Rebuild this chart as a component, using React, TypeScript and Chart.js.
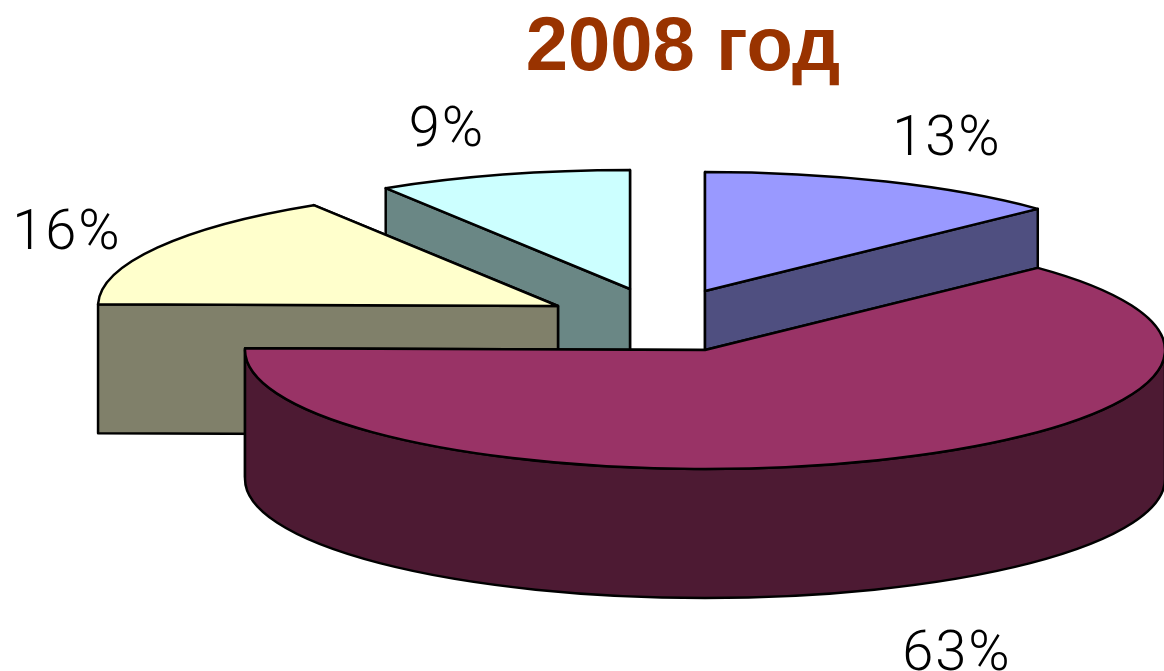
import React, { useEffect, useRef } from "react";
import { Chart, registerables } from "chart.js";

Chart.register(...registerables);

// Data
const categories = ["A", "B", "C", "D"];
const values = [13, 63, 16, 9];
const chartTitle = "2008 год";

// Style and layout
const topColors = ["#9999ff", "#993366", "#ffffcc", "#ccffff"];
const sideColors = ["#4f4f80", "#4d1a33", "#80806a", "#6a8785"];
const PIE = { x: 705, y: 349, rx: 460, ry: 119, depth: 129 };
const explode = [
  { dx: 0, dy: -58 },
  { dx: 0, dy: 1 },
  { dx: -147, dy: -43 },
  { dx: -75, dy: -60 },
];
const labelAt = [
  { x: 947, y: 141 },
  { x: 957, y: 656 },
  { x: 67, y: 235 },
  { x: 447, y: 132 },
];
const paintOrder = [0, 3, 2, 1];

const pie3d = {
  id: "pie3d",
  beforeDatasetsDraw(chart: any) {
    const ctx = chart.ctx as CanvasRenderingContext2D;
    const arcs = chart.getDatasetMeta(0).data as any[];
    const { rx, ry, depth } = PIE;
    ctx.save();
    ctx.lineWidth = 2.5;
    ctx.strokeStyle = "#000";
    ctx.lineJoin = "round";

    for (const i of paintOrder) {
      const a0 = arcs[i].startAngle;
      const a1 = arcs[i].endAngle;
      const cx = PIE.x + explode[i].dx;
      const cy = PIE.y + explode[i].dy;
      ctx.fillStyle = sideColors[i];

      const radial = [a0, a1]
        .map((a) => ({ x: cx + rx * Math.cos(a), y: cy + ry * Math.sin(a) }))
        .sort((p, q) => p.y - q.y);
      for (const p of radial) {
        ctx.beginPath();
        ctx.moveTo(cx, cy);
        ctx.lineTo(p.x, p.y);
        ctx.lineTo(p.x, p.y + depth);
        ctx.lineTo(cx, cy + depth);
        ctx.closePath();
        ctx.fill();
        ctx.stroke();
      }

      const t0 = Math.max(a0, 0);
      const t1 = Math.min(a1, Math.PI);
      if (t1 > t0) {
        ctx.beginPath();
        ctx.ellipse(cx, cy, rx, ry, 0, t0, t1);
        ctx.ellipse(cx, cy + depth, rx, ry, 0, t1, t0, true);
        ctx.closePath();
        ctx.fill();
        ctx.stroke();
      }

      ctx.beginPath();
      ctx.moveTo(cx, cy);
      ctx.ellipse(cx, cy, rx, ry, 0, a0, a1);
      ctx.closePath();
      ctx.fillStyle = topColors[i];
      ctx.fill();
      ctx.stroke();
    }

    ctx.fillStyle = "#000";
    ctx.font = '300 56px Roboto, "Liberation Sans", Arial, sans-serif';
    (ctx as any).letterSpacing = "2px";
    ctx.textAlign = "center";
    ctx.textBaseline = "middle";
    values.forEach((v, i) => {
      ctx.fillText(`${v}%`, labelAt[i].x, labelAt[i].y);
    });
    ctx.restore();
    return false;
  },
};

export default function App() {
  const ref = useRef<HTMLCanvasElement>(null);
  useEffect(() => {
    document.body.style.margin = "0";
    document.body.style.background = "#fff";
    const chart = new Chart(ref.current!, {
      type: "pie",
      data: {
        labels: categories,
        datasets: [{ data: values, backgroundColor: topColors }],
      },
      options: {
        responsive: false,
        animation: false,
        layout: { padding: { left: 202 } },
        plugins: {
          legend: { display: false },
          tooltip: { enabled: false },
          title: {
            display: true,
            text: chartTitle,
            fullSize: false,
            color: "#993300",
            padding: { top: 3, bottom: 0 },
            font: { family: '"Liberation Sans", Arial, sans-serif', size: 76, weight: "bold" },
          },
        },
      },
      plugins: [pie3d],
    } as any);
    return () => chart.destroy();
  }, []);
  return <canvas ref={ref} width={1164} height={671} style={{ display: "block" }} />;
}
